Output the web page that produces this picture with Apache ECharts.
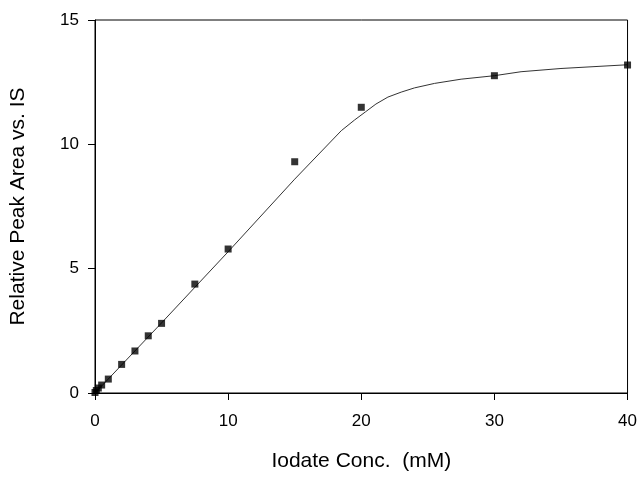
<!DOCTYPE html>
<html>
<head>
<meta charset="utf-8">
<script src="https://cdn.jsdelivr.net/npm/echarts@6/dist/echarts.min.js"></script>
<style>html,body{margin:0;padding:0;background:#fff}#c{width:640px;height:487px}</style>
</head>
<body>
<div id="c"></div>
<script>
// Measured points
var concX = [0, 0.1, 0.25, 0.5, 1, 2, 3, 4, 5, 7.5, 10, 15, 20, 30, 40];
var areaY = [0.02, 0.1, 0.2, 0.32, 0.56, 1.15, 1.69, 2.3, 2.8, 4.38, 5.79, 9.3, 11.49, 12.76, 13.19];
// Fitted curve
var fitX = [0, 5, 10, 15, 18.5, 19.5, 20.3, 21.1, 22, 23, 24, 25.5, 27.5, 30, 32, 35, 40];
var fitY = [0, 2.82, 5.68, 8.6, 10.55, 10.98, 11.3, 11.62, 11.9, 12.1, 12.27, 12.45, 12.62, 12.76, 12.92, 13.05, 13.2];
var xTicks = [0, 10, 20, 30, 40];
var yTicks = [0, 5, 10, 15];

var chart = echarts.init(document.getElementById('c'));
var font = 'Liberation Sans, Arial, sans-serif';
chart.setOption({
  animation: false,
  backgroundColor: '#fff',
  grid: {left: 95, right: 9, top: 20, bottom: 94, show: true, borderColor: '#000', borderWidth: 1},
  xAxis: {
    type: 'value', min: xTicks[0], max: xTicks[xTicks.length - 1], interval: 10,
    name: 'Iodate Conc.  (mM)', nameLocation: 'middle', nameGap: 58,
    nameTextStyle: {fontFamily: font, fontSize: 21, color: '#000'},
    axisLine: {lineStyle: {color: '#000', width: 1}},
    axisTick: {inside: false, length: 7, lineStyle: {color: '#000'}},
    axisLabel: {margin: 20, fontFamily: font, fontSize: 17, color: '#000'},
    splitLine: {show: false}
  },
  yAxis: {
    type: 'value', min: yTicks[0], max: yTicks[yTicks.length - 1], interval: 5,
    name: 'Relative Peak Area vs. IS', nameLocation: 'middle', nameGap: 66,
    nameTextStyle: {fontFamily: font, fontSize: 21, color: '#000'},
    axisLine: {lineStyle: {color: '#000', width: 1}},
    axisTick: {inside: false, length: 7, lineStyle: {color: '#000'}},
    axisLabel: {margin: 16, fontFamily: font, fontSize: 17, color: '#000'},
    splitLine: {show: false}
  },
  series: [
    {
      type: 'line', data: fitX.map(function (x, i) { return [x, fitY[i]]; }),
      smooth: false, showSymbol: false, symbol: 'none',
      lineStyle: {color: '#333', width: 1}, z: 2
    },
    {
      type: 'scatter', data: concX.map(function (x, i) { return [x, areaY[i]]; }),
      symbol: 'rect', symbolSize: 7, itemStyle: {color: '#000'}, z: 3
    }
  ]
});
</script>
</body>
</html>
